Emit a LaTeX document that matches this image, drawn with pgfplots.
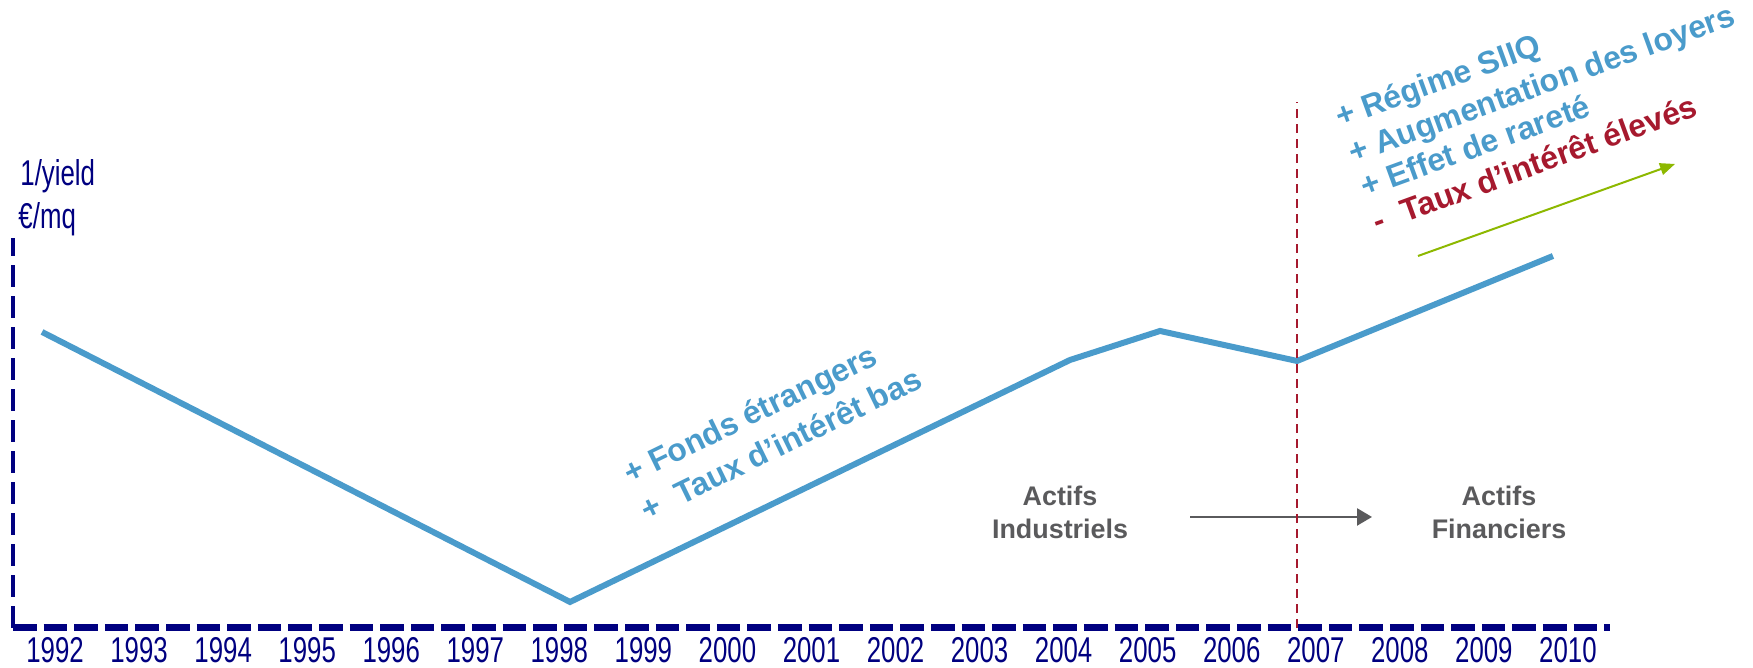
\documentclass[border=0pt]{standalone}
\usepackage{fontspec}
\setmainfont{Liberation Sans}
\newfontfamily\narrowfont[FakeStretch=0.72]{Liberation Sans}
\usepackage{pgfplots}
\pgfplotsset{compat=1.18}
\usetikzlibrary{arrows.meta}
\definecolor{navyax}{HTML}{000080}
\definecolor{lineblue}{HTML}{4A9BCB}
\definecolor{darkred}{HTML}{A6192E}
\definecolor{arrowgreen}{HTML}{8DB800}
\definecolor{textgray}{HTML}{5A5A5C}
\begin{document}
\begin{tikzpicture}
\begin{axis}[
  scale only axis, width=798.5bp, height=195bp,
  xmin=1991.5, xmax=2010.5, ymin=0, ymax=390,
  clip=false,
  axis x line*=bottom, axis y line*=left,
  x axis line style={navyax, line width=3.5bp, dash pattern=on 11.8bp off 3.5bp},
  y axis line style={navyax, line width=2bp, dash pattern=on 11bp off 4.5bp},
  xtick={1992,1993,1994,1995,1996,1997,1998,1999,2000,2001,2002,2003,2004,2005,2006,2007,2008,2009,2010},
  xticklabels={1992,1993,1994,1995,1996,1997,1998,1999,2000,2001,2002,2003,2004,2005,2006,2007,2008,2009,2010},
  ytick=\empty,
  major tick length=0pt,
  xticklabel style={font=\narrowfont\fontsize{18}{18}\selectfont, text=navyax, anchor=north, inner sep=0pt, yshift=-4.5bp},
]
% invisible frame giving the picture its proportions
\path (axis cs:1991.345,-40) rectangle (axis cs:2012.202,628);

% main series
\addplot[lineblue, line width=3bp, line join=miter] coordinates {
  (1991.845,296) (1998.127,26) (2004.076,268) (2005.147,297) (2006.777,267) (2009.822,372)
};

% gray arrow: Actifs Industriels -> Actifs Financiers
\addplot[textgray, line width=1.2bp, -{Triangle[length=7.5bp,width=8.5bp]}] coordinates {(2005.504,111) (2007.669,111)};

% green arrow
\addplot[arrowgreen, line width=1bp, -{Triangle[length=7.5bp,width=6bp]}] coordinates {(2008.216,372) (2011.274,464)};

% red dashed vertical line
\addplot[darkred, line width=1.2bp, dash pattern=on 4.5bp off 3bp] coordinates {(2006.777,0) (2006.777,526)};

% y-axis labels
\node[anchor=base west, inner sep=0pt, font=\narrowfont\fontsize{18}{18}\selectfont, text=navyax] at (axis cs:1991.583,442) {1/yield};
\node[anchor=base west, inner sep=0pt, font=\narrowfont\fontsize{18}{18}\selectfont, text=navyax] at (axis cs:1991.56,399) {€/mq};

% gray texts
\node[align=center, inner sep=0pt, font=\bfseries\fontsize{13.5}{16.5}\selectfont, text=textgray] at (axis cs:2003.957,116) {Actifs\\Industriels};
\node[align=center, inner sep=0pt, font=\bfseries\fontsize{13.5}{16.5}\selectfont, text=textgray] at (axis cs:2009.18,116) {Actifs\\Financiers};

% rotated blue annotations (middle)
\node[anchor=base west, rotate=26, inner sep=0pt, font=\bfseries\fontsize{16}{16}\selectfont, text=lineblue] at (axis cs:1998.841,143) {+ Fonds étrangers};
\node[anchor=base west, rotate=26, inner sep=0pt, font=\bfseries\fontsize{16}{16}\selectfont, text=lineblue] at (axis cs:1999.043,106) {+\hspace{0.6em}Taux d’intérêt bas};

% rotated annotations (top right)
\node[anchor=base west, rotate=20, inner sep=0pt, font=\bfseries\fontsize{16}{16}\selectfont, text=lineblue] at (axis cs:2007.288,500) {+ Régime SIIQ};
\node[anchor=base west, rotate=20, inner sep=0pt, font=\bfseries\fontsize{16}{16}\selectfont, text=lineblue] at (axis cs:2007.443,464) {+ Augmentation des loyers};
\node[anchor=base west, rotate=20, inner sep=0pt, font=\bfseries\fontsize{16}{16}\selectfont, text=lineblue] at (axis cs:2007.586,430) {+ Effet de rareté};
\node[anchor=base west, rotate=20, inner sep=0pt, font=\bfseries\fontsize{16}{16}\selectfont, text=darkred] at (axis cs:2007.728,395) {-\hspace{0.6em}Taux d’intérêt élevés};
\end{axis}
\end{tikzpicture}
\end{document}
